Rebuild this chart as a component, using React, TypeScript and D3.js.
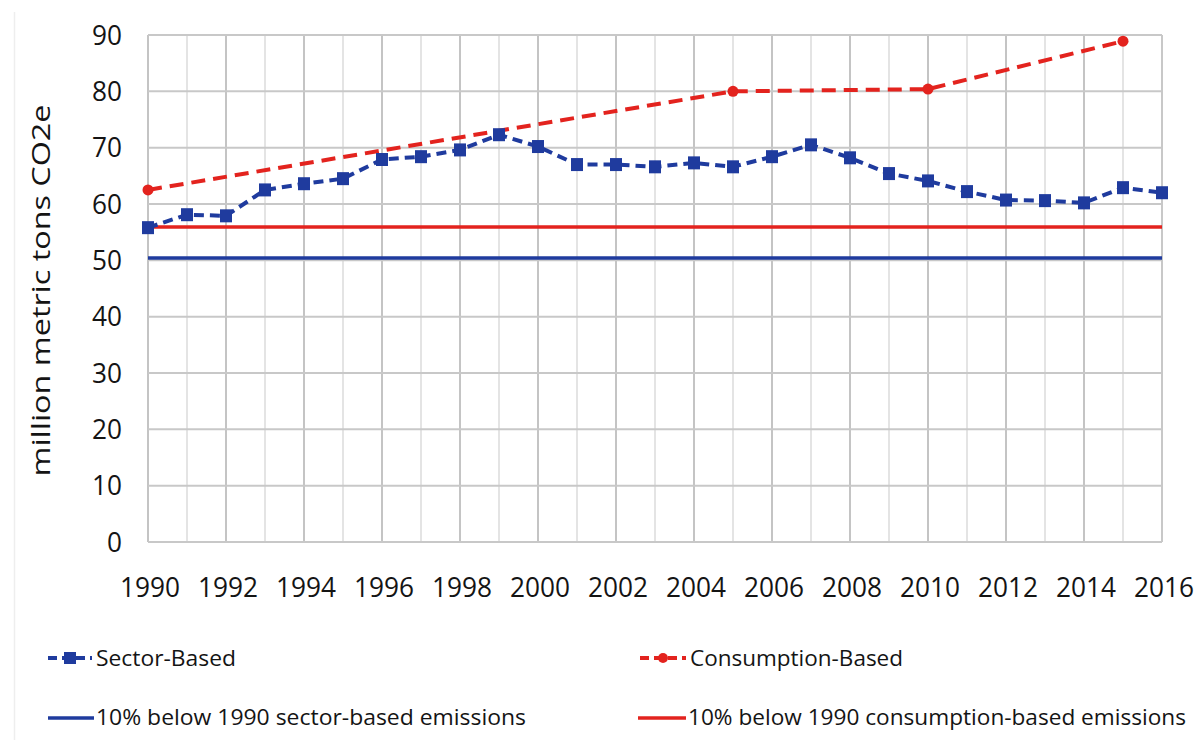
import React from "react";
import * as d3 from "d3";

const years = [1990, 1991, 1992, 1993, 1994, 1995, 1996, 1997, 1998, 1999, 2000, 2001, 2002, 2003, 2004, 2005, 2006, 2007, 2008, 2009, 2010, 2011, 2012, 2013, 2014, 2015, 2016];
const sectorBased = [55.8, 58.1, 57.9, 62.5, 63.6, 64.5, 67.9, 68.4, 69.6, 72.3, 70.2, 67.0, 67.0, 66.6, 67.3, 66.6, 68.4, 70.5, 68.2, 65.4, 64.1, 62.2, 60.7, 60.6, 60.2, 62.9, 62.0];
const consumptionYears = [1990, 2005, 2010, 2015];
const consumptionBased = [62.5, 80.0, 80.4, 88.9];
const sectorTarget = 50.4;
const consumptionTarget = 55.9;
const yTicks = [0, 10, 20, 30, 40, 50, 60, 70, 80, 90];
const xLabelYears = [1990, 1992, 1994, 1996, 1998, 2000, 2002, 2004, 2006, 2008, 2010, 2012, 2014, 2016];
const yTitle = "million metric tons CO2e";
const legendLabels = ["Sector-Based", "Consumption-Based", "10% below 1990 sector-based emissions", "10% below 1990 consumption-based emissions"];

const BLUE = "#1f3b9e";
const RED = "#e3231e";
const FONT = "'Open Sans', sans-serif";
const TEXT = "#141414";

export default function App() {
  const x = d3.scaleLinear().domain([1990, 2016]).range([148, 1162]);
  const y = d3.scaleLinear().domain([0, 90]).range([542, 35]);

  const sectorPts: [number, number][] = years.map((yr, i) => [yr, sectorBased[i]]);
  const consPts: [number, number][] = consumptionYears.map((yr, i) => [yr, consumptionBased[i]]);
  const line = d3.line<[number, number]>().x((d) => x(d[0])).y((d) => y(d[1]));

  const x0 = x(1990), x1 = x(2016), yTop = y(90), yBot = y(0);

  return (
    <svg width={1204} height={740} style={{ position: "absolute", left: 0, top: 0, background: "#fff" }} fontFamily={FONT}>
      <rect x={0} y={0} width={1204} height={740} fill="#fff" />
      <line x1={14.5} x2={14.5} y1={12} y2={740} stroke="#eeeeee" strokeWidth={1.5} />
      {/* vertical gridlines */}
      {years.map((yr) => (
        <line key={"v" + yr} x1={x(yr)} x2={x(yr)} y1={yTop} y2={yBot}
          stroke={yr % 2 === 0 ? "#c4c4c4" : "#dedede"} strokeWidth={yr % 2 === 0 ? 2 : 1.6} />
      ))}
      {/* horizontal gridlines */}
      {yTicks.map((t) => (
        <line key={"h" + t} x1={x0} x2={x1} y1={y(t)} y2={y(t)} stroke="#c8c8c8" strokeWidth={2} />
      ))}
      <line x1={x1} x2={x1} y1={yTop} y2={yBot} stroke="#c8c8c8" strokeWidth={2} />
      {/* y tick labels */}
      {yTicks.map((t) => (
        <text key={"yl" + t} x={122} y={y(t)} dy="0.36em" textAnchor="end" fontSize={27} fill={TEXT}
          textLength={String(t).length * 15} lengthAdjust="spacingAndGlyphs">{t}</text>
      ))}
      {/* x tick labels */}
      {xLabelYears.map((yr) => (
        <text key={"xl" + yr} x={x(yr) + 2} y={597} textAnchor="middle" fontSize={27} fill={TEXT}
          textLength={60} lengthAdjust="spacingAndGlyphs">{yr}</text>
      ))}
      {/* y title */}
      <text transform={`translate(50, ${(yTop + yBot) / 2 + 2}) rotate(-90)`} textAnchor="middle" fontSize={26}
        fill={TEXT} textLength={372} lengthAdjust="spacingAndGlyphs">{yTitle}</text>
      {/* target lines */}
      <line x1={x0} x2={x1} y1={y(sectorTarget)} y2={y(sectorTarget)} stroke={BLUE} strokeWidth={3.5} />
      <line x1={x0} x2={x1} y1={y(consumptionTarget)} y2={y(consumptionTarget)} stroke={RED} strokeWidth={3.5} />
      {/* consumption based */}
      <path d={line(consPts) || ""} fill="none" stroke={RED} strokeWidth={4} strokeDasharray="14 8" />
      {consPts.map((d, i) => (
        <circle key={"c" + i} cx={x(d[0])} cy={y(d[1])} r={5.5} fill={RED} />
      ))}
      {/* sector based */}
      <path d={line(sectorPts) || ""} fill="none" stroke={BLUE} strokeWidth={4} strokeDasharray="10 6" />
      {sectorPts.map((d, i) => (
        <rect key={"s" + i} x={x(d[0]) - 6} y={y(d[1]) - 6.5} width={12} height={13} fill={BLUE} />
      ))}
      {/* legend */}
      <g>
        <line x1={48} x2={92} y1={658} y2={658} stroke={BLUE} strokeWidth={4} strokeDasharray="9 5" />
        <rect x={64} y={652} width={12} height={12} fill={BLUE} />
        <text x={96} y={658} dy="0.35em" fontSize={22} fill={TEXT} textLength={140} lengthAdjust="spacingAndGlyphs">{legendLabels[0]}</text>

        <line x1={640} x2={686} y1={658} y2={658} stroke={RED} strokeWidth={4} strokeDasharray="9 5" />
        <circle cx={663} cy={658} r={5} fill={RED} />
        <text x={690} y={658} dy="0.35em" fontSize={22} fill={TEXT} textLength={213} lengthAdjust="spacingAndGlyphs">{legendLabels[1]}</text>

        <line x1={48} x2={94} y1={718} y2={718} stroke={BLUE} strokeWidth={3.5} />
        <text x={96} y={718} dy="0.35em" fontSize={21} fill={TEXT} textLength={430} lengthAdjust="spacingAndGlyphs">{legendLabels[2]}</text>

        <line x1={638} x2={686} y1={718} y2={718} stroke={RED} strokeWidth={3.5} />
        <text x={688} y={718} dy="0.35em" fontSize={21} fill={TEXT} textLength={498} lengthAdjust="spacingAndGlyphs">{legendLabels[3]}</text>
      </g>
    </svg>
  );
}
